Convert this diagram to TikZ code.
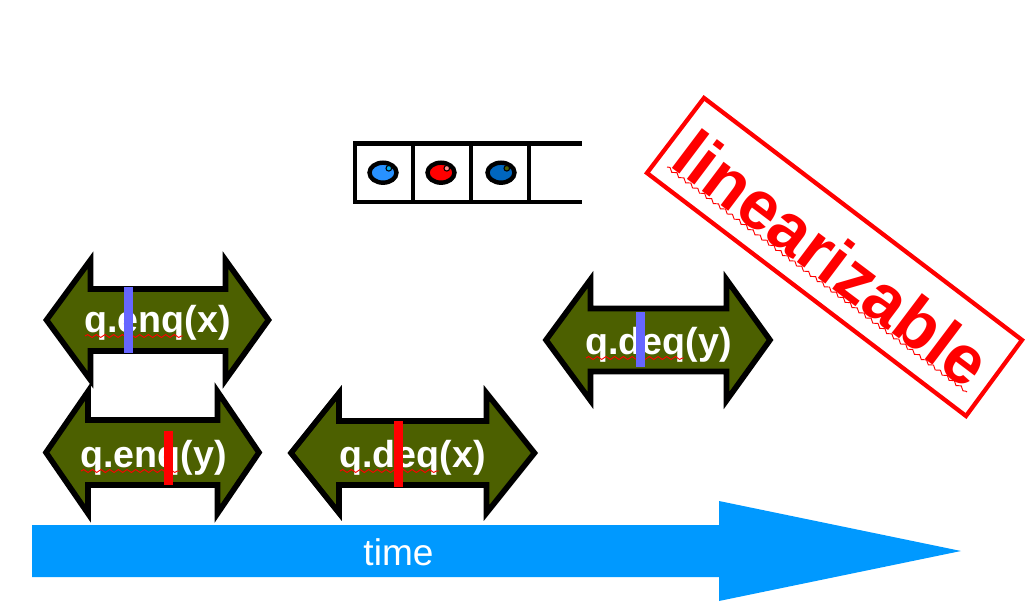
\documentclass[tikz,border=0pt]{standalone}
\usepackage{fontspec}
\setmainfont{Liberation Sans}
\usetikzlibrary{decorations.pathmorphing}
\definecolor{olivefill}{HTML}{4C6000}
\definecolor{timeblue}{HTML}{0099FF}
\definecolor{barblue}{HTML}{6666FF}
\definecolor{eyeone}{RGB}{40,145,255}
\definecolor{eyetwo}{RGB}{0,102,190}
\tikzset{
  x=0.75pt,y=-0.75pt,
  oparrow/.style={draw=black,fill=olivefill,line width=4.2pt,miter limit=10},
  oplabel/.style={text=white,font=\fontsize{28.2}{28.2}\selectfont\bfseries,inner sep=0pt,anchor=base},
  squiggle/.style={draw=red,line width=0.7pt,decorate,decoration={snake,amplitude=1.1pt,segment length=6.5pt}},
  qline/.style={draw=black,line width=3.4pt,line cap=rect},
  eye/.style={draw=black,line width=3.3pt},
  glint/.style={draw=black,line width=0.8pt},
}
% #1 left tip x, #2 head left x, #3 head right x, #4 right tip x, #5 centre y, #6 shaft half, #7 head half
\newcommand{\oparrowshape}[7]{%
  \draw[oparrow] (#1,#5) -- (#2,#5-#7) -- (#2,#5-#6) -- (#3,#5-#6) -- (#3,#5-#7) -- (#4,#5)
    -- (#3,#5+#7) -- (#3,#5+#6) -- (#2,#5+#6) -- (#2,#5+#7) -- cycle;}
\begin{document}
\begin{tikzpicture}
\useasboundingbox (0,0) rectangle (1029,613);
% time arrow
\fill[timeblue] (32,525) -- (719,525) -- (719,501) -- (961,551) -- (719,601) -- (719,577) -- (32,577) -- cycle;
\node[text=white,font=\fontsize{27.8}{27.8}\selectfont,inner sep=0pt,anchor=base] (timelabel) at (398.5,565) {time};
% queue
\draw[qline] (580,143.5) -- (355,143.5) -- (355,202) -- (580,202);
\draw[qline] (413,143.5) -- (413,202);
\draw[qline] (471,143.5) -- (471,202);
\draw[qline] (529,143.5) -- (529,202);
\draw[eye,fill=eyeone] (383,172.7) ellipse (13.5 and 10);
\draw[glint,fill=cyan] (388.8,168.3) circle (2.8);
\draw[eye,fill=red] (441,172.7) ellipse (13.5 and 10);
\draw[glint,fill=red!45!white] (446.8,168.3) circle (2.8);
\draw[eye,fill=eyetwo] (501,172.7) ellipse (13.5 and 10);
\draw[glint,fill=olivefill] (506.8,168.3) circle (2.8);
% operation arrows
\oparrowshape{46}{88}{217.5}{259}{452.5}{32.5}{61}
\oparrowshape{46.5}{90.5}{225.5}{268.5}{320}{31}{60}
\oparrowshape{291}{339}{486.5}{534.5}{453}{32}{60}
\oparrowshape{546}{590.5}{726.5}{770}{340}{31.5}{60.5}
% labels
\node[oplabel] (enqx) at (157.5,332.5) {q.enq(x)};
\node[oplabel] (enqy) at (153.5,467.5) {q.enq(y)};
\node[oplabel] (deqx) at (412.5,467.5) {q.deq(x)};
\node[oplabel] (deqy) at (658.5,354.5) {q.deq(y)};
\draw[squiggle] (85,336) -- (183,336);
\draw[squiggle] (81,471) -- (180,471);
\draw[squiggle] (340,471) -- (439,471);
\draw[squiggle] (586,358) -- (684,358);
% bars
\fill[barblue] (124,287) rectangle (133,353);
\fill[red] (164,431) rectangle (173,485);
\fill[red] (394,421) rectangle (403,487);
\fill[barblue] (636,312) rectangle (645,367);
% linearizable
\draw[red,line width=3.2pt,miter limit=10] (704,98) -- (1022,340) -- (966,416) -- (647,173) -- cycle;
\node[text=red,font=\fontsize{51.6}{51.6}\selectfont\bfseries,inner sep=0pt,anchor=base west,rotate=-37] (lin) at (668,165) {linearizable};
\draw[squiggle] (667,167) -- (967,392);
\end{tikzpicture}
\end{document}
